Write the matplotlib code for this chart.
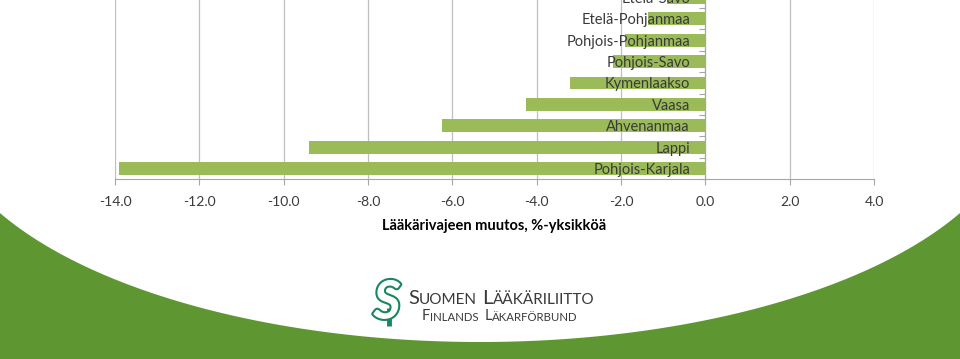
import numpy as np
import matplotlib.pyplot as plt
import matplotlib.patheffects as pe

plt.rcParams['font.family'] = ['Lato', 'DejaVu Sans']
plt.rcParams['axes.unicode_minus'] = False

# alueet alhaalta ylos
alueet = ['Pohjois-Karjala', 'Lappi', 'Ahvenanmaa', 'Vaasa', 'Kymenlaakso',
          'Pohjois-Savo', 'Pohjois-Pohjanmaa', 'Etelä-Pohjanmaa', 'Etelä-Savo']
muutos = [-13.9, -9.4, -6.25, -4.25, -3.2, -2.2, -1.9, -1.35, -0.9]
x_tikit = [-14.0, -12.0, -10.0, -8.0, -6.0, -4.0, -2.0, 0.0, 2.0, 4.0]

teksti = '#3A3A3A'
harmaa = '#A6A6A6'

fig = plt.figure(figsize=(9.6, 3.59), dpi=100)

# tausta: vihrea kaari ja logo (pikselikoordinaatit)
bg = fig.add_axes([0, 0, 1, 1], zorder=0)
bg.set_xlim(0, 960)
bg.set_ylim(359, 0)
bg.axis('off')
xx = np.linspace(0, 960, 500)
yy = 104 + 238 * np.sqrt(1 - ((xx - 480) / 540) ** 2)
bg.fill_between(xx, yy, 359, color='#5E9732', lw=0)

# logo
bg.text(387, 303, 'S', fontsize=38, fontstyle='italic', fontweight='bold',
        color='white', ha='center', va='center',
        path_effects=[pe.withStroke(linewidth=3, foreground='#17875E')])
bg.plot([389, 389], [308, 326], color='#17875E', lw=3.5, solid_capstyle='butt')


def kapiteeli(x, y, osat, iso, pieni):
    # osat: lista sanoista, ensimmainen kirjain isolla koolla
    t = None
    for i, sana in enumerate(osat):
        for j, pala in enumerate([sana[0], sana[1:]]):
            koko = iso if j == 0 else pieni
            if t is None:
                t = bg.text(x, y, pala, fontsize=koko, color='#3A3A3A', va='bottom')
            else:
                dx = 4 if j == 0 else 0
                t = bg.annotate(pala, xy=(1, 0), xycoords=t, xytext=(dx, 0),
                                textcoords='offset points', fontsize=koko,
                                color='#3A3A3A', va='bottom')


kapiteeli(408, 307, ['SUOMEN', 'LÄÄKÄRILIITTO'], 14.5, 11)
kapiteeli(422, 323, ['FINLANDS', 'LÄKARFÖRBUND'], 10.5, 8.2)

# pylvaskuvio
ax = fig.add_axes([115 / 960, (359 - 179.3) / 359, (874 - 115) / 960, (179.3 + 13.4) / 359],
                  zorder=1)
ax.set_facecolor('none')
y = np.arange(len(alueet))
ax.barh(y, muutos, height=0.6, color='#9BBB59', zorder=2)
ax.set_xlim(-14, 4)
ax.set_ylim(-0.5, len(alueet) - 0.5)

ax.set_xticks(x_tikit)
ax.set_xticklabels([f'{v:.1f}' for v in x_tikit])
ax.set_yticks(y)
ax.set_yticklabels(alueet)
ax.set_yticks(np.arange(len(alueet)) - 0.5, minor=True)

ax.spines['left'].set_position(('data', 0))
ax.spines['top'].set_visible(False)
ax.spines['right'].set_visible(False)
ax.spines['left'].set_color(harmaa)
ax.spines['bottom'].set_color(harmaa)

ax.tick_params(axis='y', which='major', length=0, pad=11, labelsize=10.5, labelcolor=teksti)
ax.tick_params(axis='y', which='minor', length=4, width=0.8, color=harmaa, direction='out')
ax.tick_params(axis='x', length=4, width=0.8, color=harmaa, pad=8, labelsize=10,
               labelcolor=teksti)
ax.grid(axis='x', color='#BFBFBF', lw=0.9)
ax.xaxis.set_zorder(0.5)
ax.yaxis.set_zorder(3)

ax.set_xlabel('Lääkärivajeen muutos, %-yksikköä', fontsize=10.5, fontweight='bold',
              color='black', labelpad=8)

fig.savefig('out.png', dpi=100)
